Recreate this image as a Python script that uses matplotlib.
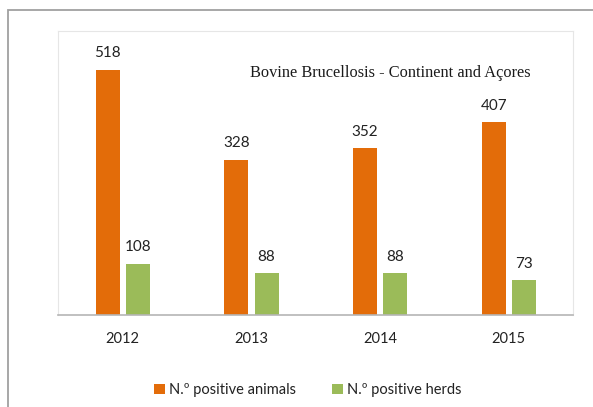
import numpy as np
import matplotlib.pyplot as plt
from matplotlib.patches import Rectangle

# data
years = ['2012', '2013', '2014', '2015']
animals = [518, 328, 352, 407]
herds = [108, 88, 88, 73]

orange = '#E36C09'
green = '#9BBB59'
sans = ['Lato', 'DejaVu Sans']

fig = plt.figure(figsize=(5.93, 4.07), dpi=100)
ax = fig.add_axes([58/593, 1 - 315/407, 515/593, 284/407])

x = np.arange(len(years))
w = 0.186
b1 = ax.bar(x - 0.115, animals, w, color=orange, label='N.º positive animals')
b2 = ax.bar(x + 0.12, herds, w, color=green, label='N.º positive herds')

for bars in (b1, b2):
    for r in bars:
        ax.annotate(str(int(r.get_height())), (r.get_x() + r.get_width()/2, r.get_height()),
                    xytext=(0, 12), textcoords='offset points', ha='center', va='center',
                    fontsize=11, color='#222222', family=sans)

ax.set_xlim(-0.5, 3.5)
ax.set_ylim(0, 600)
ax.set_yticks([])
ax.set_xticks(x)
ax.set_xticklabels(years, family=sans, fontsize=10.5, color='#222222')
ax.tick_params(axis='x', length=0, pad=12)
for s in ['left', 'right', 'top']:
    ax.spines[s].set_color('#e6e6e6')
ax.spines['bottom'].set_color('#b5b5b5')
ax.spines['bottom'].set_linewidth(1.2)

ax.text(0.645, 0.852, 'Bovine Brucellosis - Continent and Açores', transform=ax.transAxes,
        ha='center', va='center', fontsize=11.8, family='Liberation Serif', color='#1a1a1a')

fig.legend(handles=[b1, b2], loc='center', bbox_to_anchor=(308/593, 1 - 390/407), ncol=2,
           frameon=False, prop={'family': sans, 'size': 10.5}, handlelength=0.7, handleheight=0.7,
           handletextpad=0.3, columnspacing=2.5, labelcolor='#222222')

# outer frame
fig.patches.append(Rectangle((8/593, -0.1), 1.2, 1 - 10/407 + 0.1, transform=fig.transFigure,
                             fill=False, edgecolor='#a0a0a0', linewidth=1.3))

fig.savefig('out.png', dpi=100)
